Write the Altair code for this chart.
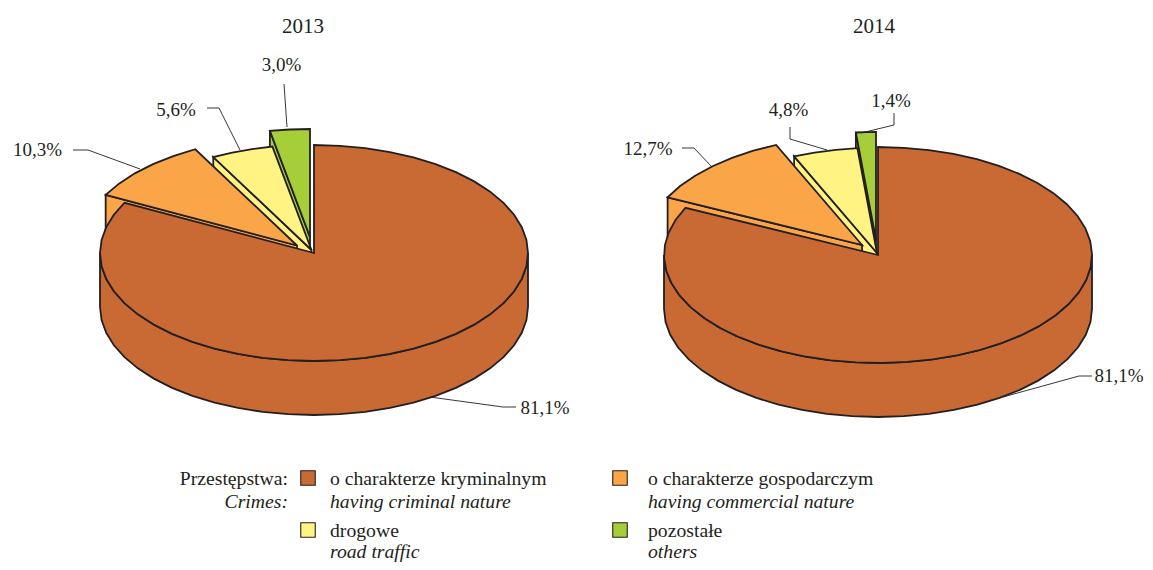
import math
import altair as alt

# ---- values ----
years = ["2013", "2014"]
categories = ["pozostałe", "drogowe", "o charakterze gospodarczym", "o charakterze kryminalnym"]
colors = ["#A6CE39", "#FFF384", "#FBA549", "#C96A35"]
# Printed percentages
labels_2013 = ["3,0%", "5,6%", "10,3%", "81,1%"]
labels_2014 = ["1,4%", "4,8%", "12,7%", "81,1%"]
# Sizes of the slices as they are drawn in the picture (the drawing is not exactly proportional)
drawn_2013 = [3.0, 4.8, 9.5, 82.7]
drawn_2014 = [1.5, 5.0, 11.3, 82.2]

legend_pl = ["o charakterze kryminalnym", "o charakterze gospodarczym", "drogowe", "pozostałe"]
legend_en = ["having criminal nature", "having commercial nature", "road traffic", "others"]
legend_colors = ["#C96A35", "#FBA549", "#FFF384", "#A6CE39"]

# ---- layout (page pixels; the chart origin sits at the 8px page margin) ----
M = 8
W, H = 1137, 554
RX, RY, DEPTH = 214, 108, 54
INK = "#231F20"
FONT = "Liberation Serif"
panels = [
    dict(center=(314, 253), apex=[(310, 237), (311.5, 250), (297, 245.5), (314, 253)],
         rad=[1.0, 0.975, 1.01, 1.0], drawn=drawn_2013, labels=labels_2013),
    dict(center=(878, 255), apex=[(876, 240), (877, 253), (862, 245), (878, 255)],
         rad=[1.0, 0.975, 1.01, 1.0], drawn=drawn_2014, labels=labels_2014),
]
leaders = [
    [(287, 127), (284, 84)], [(240, 150), (219, 108), (207, 108)],
    [(140, 169), (88, 150), (73, 150)], [(430, 397), (503, 407), (516, 407)],
    [(861, 133), (894, 125), (894, 113)], [(827, 150), (790, 139), (790, 127)],
    [(712, 167), (694, 148), (682, 148)], [(1003, 397), (1079, 376), (1092, 376)],
]
label_pos = [
    [(281.5, 65), (176, 110), (37.5, 150), (545, 408)],
    [(891, 101), (788.5, 110), (648, 149), (1119, 376)],
]


def pt(apex, t, r=1.0, dy=0):
    a = math.radians(t)
    return [apex[0] - M - RX * r * math.sin(a), apex[1] - M - RY * r * math.cos(a) + dy]


def feature(ring, fill):
    return {"type": "Feature", "properties": {"fill": fill},
            "geometry": {"type": "Polygon", "coordinates": [ring + [ring[0]]]}}


def arc(apex, t0, t1, r=1.0, dy=0, step=7):
    n = max(2, int(abs(t1 - t0) / step) + 1)
    return [pt(apex, t0 + (t1 - t0) * i / n, r, dy) for i in range(n + 1)]


shapes = []
for p in panels:
    t = 0.0
    for i, share in enumerate(p["drawn"]):
        t1 = t + share * 3.6
        ap, r, col = p["apex"][i], p["rad"][i], colors[i]
        a0 = [ap[0] - M, ap[1] - M]
        if i < 3:
            # visible cut face of a pulled-out slice
            outer = pt(ap, t1, r)
            shapes.append(feature([a0, outer, [outer[0], outer[1] + DEPTH], [a0[0], a0[1] + DEPTH]], col))
            shapes.append(feature([a0] + arc(ap, t, t1, r), col))
        else:
            # rim of the big slice, then its top
            shapes.append(feature(arc(ap, 90, 270) + arc(ap, 270, 90, dy=DEPTH), col))
            shapes.append(feature([a0] + arc(ap, t, t1, r), col))
        t = t1

pie = alt.Chart(alt.Data(values=shapes)).mark_geoshape(
    stroke=INK, strokeWidth=1.8, strokeJoin="miter"
).encode(fill=alt.Fill("properties.fill:N", scale=None)).project(
    type="identity", scale=1, translate=[0, 0]
)

line_rows = []
for k, seg in enumerate(leaders):
    for j, (x, y) in enumerate(seg):
        line_rows.append({"k": k, "j": j, "x": x - M, "y": y - M})

X = alt.X("x:Q", scale=alt.Scale(domain=[0, W], range=[0, W]), axis=None)
Y = alt.Y("y:Q", scale=alt.Scale(domain=[0, H], range=[0, H]), axis=None)

lines = alt.Chart(alt.Data(values=line_rows)).mark_line(color=INK, strokeWidth=0.9).encode(
    x=X, y=Y, detail="k:N", order="j:Q"
)

pct_rows = []
for p, poss in zip(panels, label_pos):
    for lab, (x, y) in zip(p["labels"], poss):
        pct_rows.append({"x": x - M, "y": y - M, "t": lab})
pct = alt.Chart(alt.Data(values=pct_rows)).mark_text(
    font=FONT, fontSize=19, color=INK, align="center", baseline="middle"
).encode(x=X, y=Y, text="t:N")

year_rows = [{"x": 303 - M, "y": 27 - M, "t": years[0]}, {"x": 874 - M, "y": 27 - M, "t": years[1]}]
year = alt.Chart(alt.Data(values=year_rows)).mark_text(
    font=FONT, fontSize=21, color=INK, align="center", baseline="middle"
).encode(x=X, y=Y, text="t:N")

col_x = [330, 648, 330, 648]
sq_x = [308, 620, 308, 620]
row_y = [479, 479, 531, 531]
en_y = [502, 502, 552, 552]
sq_rows = [{"x": a - M, "y": b - 1 - M, "c": c} for a, b, c in zip(sq_x, row_y, legend_colors)]
squares = alt.Chart(alt.Data(values=sq_rows)).mark_square(
    size=210, stroke=INK, strokeWidth=1.1, opacity=1, filled=True
).encode(x=X, y=Y, fill=alt.Fill("c:N", scale=None))

pl_rows = [{"x": a - M, "y": b - M, "t": s} for a, b, s in zip(col_x, row_y, legend_pl)]
en_rows = [{"x": a - M, "y": b - M, "t": s} for a, b, s in zip(col_x, en_y, legend_en)]
leg_pl = alt.Chart(alt.Data(values=pl_rows)).mark_text(
    font=FONT, fontSize=19.7, color=INK, align="left", baseline="middle"
).encode(x=X, y=Y, text="t:N")
leg_en = alt.Chart(alt.Data(values=en_rows)).mark_text(
    font=FONT, fontSize=19.7, fontStyle="italic", color=INK, align="left", baseline="middle"
).encode(x=X, y=Y, text="t:N")

head_pl = alt.Chart(alt.Data(values=[{"x": 288 - M, "y": 479 - M, "t": "Przestępstwa:"}])).mark_text(
    font=FONT, fontSize=19.7, color=INK, align="right", baseline="middle"
).encode(x=X, y=Y, text="t:N")
head_en = alt.Chart(alt.Data(values=[{"x": 288 - M, "y": 502 - M, "t": "Crimes:"}])).mark_text(
    font=FONT, fontSize=19.7, fontStyle="italic", color=INK, align="right", baseline="middle"
).encode(x=X, y=Y, text="t:N")

chart = alt.layer(pie, lines, pct, year, squares, leg_pl, leg_en, head_pl, head_en).properties(
    width=W, height=H, padding=0, autosize="none", background="white"
).configure_view(stroke=None)

chart.save("out.html", embed_options={"renderer": "svg", "actions": False})
